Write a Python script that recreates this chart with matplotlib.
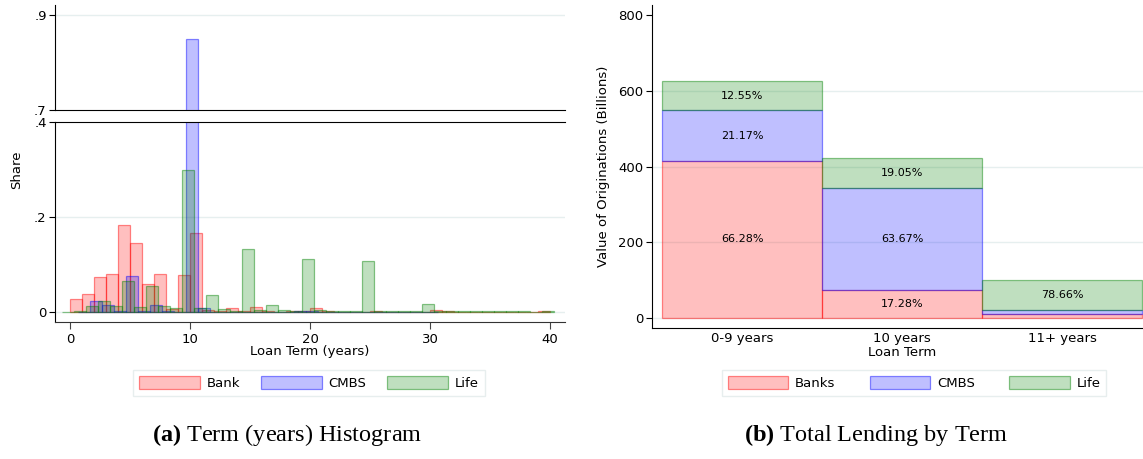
import numpy as np
import matplotlib.pyplot as plt
from matplotlib.patches import Patch

plt.rcParams['font.family'] = 'DejaVu Sans'
plt.rcParams['mathtext.fontset'] = 'custom'
plt.rcParams['mathtext.rm'] = 'Liberation Serif'
plt.rcParams['mathtext.bf'] = 'Liberation Serif:bold'

# --- panel (a): share of loans per 1-year term bin (bins start at different offsets)
bank_start = 0.0
bank_share = [.027, .038, .074, .080, .183, .145, .059, .081, .006, .078,
              .166, .004, .002, .008, .002, .010, .002, .001, .002, .002,
              .008, .002, .001, .001, .001, .002, .001, .001, .001, .001,
              .004, .002, .001, .000, .000, .000, .000, .000, .000, .002]
cmbs_start = 0.65
cmbs_share = [.001, .024, .015, .002, .076, .003, .015, .003, .001, .850,
              .008, .001, .001, .001, .001, .001, .001, .001, .002, .002,
              .001, .001, .001, .001, .001, .001, .001, .001, .001, .001]
life_start = -0.7
life_share = [.001, .002, .012, .023, .013, .066, .011, .055, .013, .009,
              .300, .008, .036, .006, .003, .133, .004, .015, .004, .002,
              .112, .004, .002, .002, .002, .108, .002, .002, .002, .002,
              .017, .003, .002, .003, .002, .002, .002, .002, .002, .000,
              .002]

# --- panel (b): total lending by term (billions) and lender shares (%)
terms = ['0-9 years', '10 years', '11+ years']
term_total = [627, 423, 101]
bank_pct = [66.28, 17.28, 9.20]
cmbs_pct = [21.17, 63.67, 12.14]
life_pct = [12.55, 19.05, 78.66]

red_f, red_e = (1, 0, 0, 0.25), (1, 0, 0, 0.45)
blue_f, blue_e = (0, 0, 1, 0.25), (0, 0, 1, 0.45)
green_f, green_e = (0, 0.5, 0, 0.25), (0, 0.5, 0, 0.45)
grid_c = '#E6EFEF'

W, H = 1143, 459
def fx(p):
    return p / W
def fy(p):
    return 1 - p / H

fig = plt.figure(figsize=(W / 100, H / 100), dpi=100)

ax_top = fig.add_axes([fx(55), fy(110), 510 / W, 105 / H])
ax_bot = fig.add_axes([fx(55), fy(322), 510 / W, 200 / H])
ax_r = fig.add_axes([fx(652), fy(328), (W - 652) / W, 323 / H])

series = [(bank_start, bank_share, red_f, red_e),
          (cmbs_start, cmbs_share, blue_f, blue_e),
          (life_start, life_share, green_f, green_e)]

for ax in (ax_top, ax_bot):
    for start, share, fc, ec in series:
        xs = start + np.arange(len(share))
        ax.bar(xs, share, width=1, align='edge', color=fc, edgecolor=ec, linewidth=0.9)
    ax.set_xlim(-1.25, 41.25)
    ax.spines['right'].set_visible(False)
    ax.tick_params(axis='y', length=4, labelsize=9.5, pad=2)

ax_top.set_ylim(0.7, 0.921)
ax_top.set_yticks([0.7, 0.9])
ax_top.set_yticklabels(['.7', '.9'])
ax_top.set_xticks([])
ax_top.spines['top'].set_visible(False)
ax_top.axhline(0.9, color=grid_c, lw=1, zorder=0)

ax_bot.set_ylim(-0.021, 0.4)
ax_bot.set_yticks([0, 0.2, 0.4])
ax_bot.set_yticklabels(['0', '.2', '.4'])
ax_bot.set_xticks([0, 10, 20, 30, 40])
ax_bot.tick_params(axis='x', length=5, labelsize=9.5, pad=3, color='#444444')
ax_bot.axhline(0.2, color=grid_c, lw=1, zorder=0)
ax_bot.axhline(0.0, color=grid_c, lw=1, zorder=0)
ax_bot.spines['bottom'].set_color('#333333')

# --- panel (b)
xpos = np.arange(len(terms))
bottom = np.zeros(len(terms))
for pct, fc, ec in [(bank_pct, red_f, red_e), (cmbs_pct, blue_f, blue_e), (life_pct, green_f, green_e)]:
    vals = np.array(term_total) * np.array(pct) / 100
    ax_r.bar(xpos, vals, width=1, bottom=bottom, color=fc, edgecolor=ec, linewidth=0.9)
    for i, v in enumerate(vals):
        if v >= 40:
            ax_r.text(xpos[i], bottom[i] + v / 2, f'{pct[i]:.2f}%', ha='center', va='center', fontsize=8)
    bottom += vals

ax_r.set_xlim(-0.5625, 2.506)
ax_r.set_ylim(-26.4, 827)
ax_r.set_yticks([0, 200, 400, 600, 800])
ax_r.set_xticks(xpos)
ax_r.set_xticklabels(terms)
ax_r.tick_params(axis='x', length=0, labelsize=9.5, pad=3)
ax_r.tick_params(axis='y', length=4, labelsize=9.5, pad=2)
for yv in [0, 200, 400, 600]:
    ax_r.axhline(yv, color=grid_c, lw=1, zorder=0)
ax_r.spines['top'].set_visible(False)
ax_r.spines['right'].set_visible(False)

# axis titles
fig.text(fx(17), fy(170), 'Share', rotation=90, ha='center', va='center', fontsize=9.5)
fig.text(fx(310), fy(352), 'Loan Term (years)', ha='center', va='center', fontsize=9.5)
fig.text(fx(603), fy(166), 'Value of Originations (Billions)', rotation=90, ha='center', va='center', fontsize=9.5)
fig.text(fx(902), fy(352), 'Loan Term', ha='center', va='center', fontsize=9.5)

# legends
def legend(labels, cx, colsp):
    handles = [Patch(facecolor=f, edgecolor=e, linewidth=0.9)
               for f, e in [(red_f, red_e), (blue_f, blue_e), (green_f, green_e)]]
    lg = fig.legend(handles, labels, loc='center', bbox_to_anchor=(fx(cx), fy(383)),
                    ncol=3, fontsize=9.5, frameon=True, fancybox=False,
                    handlelength=4.6, handleheight=1.1, handletextpad=0.5,
                    columnspacing=colsp, borderpad=0.45)
    lg.get_frame().set_edgecolor('#E2EAEA')
    lg.get_frame().set_linewidth(1)

legend(['Bank', 'CMBS', 'Life'], 309, 1.6)
legend(['Banks', 'CMBS', 'Life'], 914, 2.6)

# captions
fig.text(fx(287), fy(435), r'$\mathbf{(a)}$ Term (years) Histogram', ha='center', va='center',
         fontsize=17.5, family='Liberation Serif')
fig.text(fx(876), fy(435), r'$\mathbf{(b)}$ Total Lending by Term', ha='center', va='center',
         fontsize=17.5, family='Liberation Serif')

fig.savefig('out.png', dpi=100)
